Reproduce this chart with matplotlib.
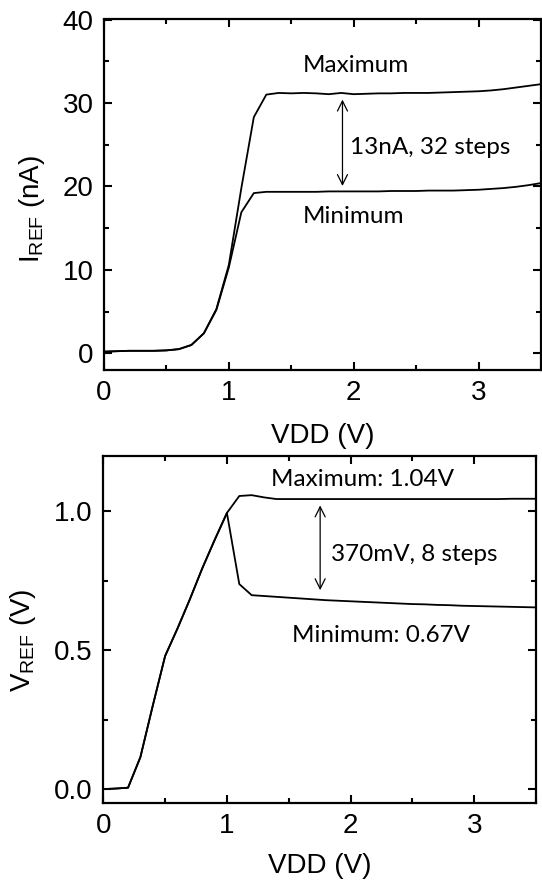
import matplotlib
matplotlib.use("Agg")
import matplotlib.pyplot as plt
from matplotlib.ticker import MultipleLocator, FormatStrFormatter

plt.rcParams['font.family'] = ['Liberation Sans', 'DejaVu Sans']
plt.rcParams['mathtext.fontset'] = 'custom'
plt.rcParams['mathtext.rm'] = 'Liberation Sans'
plt.rcParams['mathtext.it'] = 'Liberation Sans'

# ---- Top panel data: I_REF (nA) vs VDD (V)
vdd = [0.0, 0.1, 0.2, 0.3, 0.4, 0.5, 0.6, 0.7, 0.8, 0.9, 1.0, 1.1, 1.2, 1.3, 1.4,
       1.5, 1.6, 1.7, 1.8, 1.9, 2.0, 2.1, 2.2, 2.3, 2.4, 2.5, 2.6, 2.7, 2.8, 2.9,
       3.0, 3.1, 3.2, 3.3, 3.4, 3.5]
iref_max = [0.2, 0.25, 0.3, 0.3, 0.3, 0.35, 0.5, 1.0, 2.4, 5.3, 10.6, 19.8, 28.3, 31.0, 31.2,
            31.15, 31.2, 31.15, 31.05, 31.2, 31.05, 31.1, 31.15, 31.15, 31.2, 31.2, 31.2, 31.25, 31.3, 31.35,
            31.4, 31.5, 31.65, 31.85, 32.05, 32.25]
iref_min = [0.2, 0.25, 0.3, 0.3, 0.3, 0.35, 0.5, 1.0, 2.4, 5.2, 10.3, 16.9, 19.2, 19.35, 19.35,
            19.35, 19.35, 19.35, 19.4, 19.4, 19.4, 19.4, 19.4, 19.45, 19.45, 19.45, 19.5, 19.5, 19.5, 19.55,
            19.6, 19.7, 19.8, 19.95, 20.15, 20.4]

# ---- Bottom panel data: V_REF (V) vs VDD (V)
vref_max = [0.0, 0.002, 0.005, 0.115, 0.30, 0.479, 0.578, 0.683, 0.794, 0.896, 0.994, 1.055, 1.058, 1.05, 1.044,
            1.044, 1.044, 1.044, 1.044, 1.044, 1.044, 1.044, 1.044, 1.044, 1.044, 1.044, 1.044, 1.044, 1.044, 1.044,
            1.044, 1.044, 1.044, 1.045, 1.045, 1.045]
vref_min = [0.0, 0.002, 0.005, 0.115, 0.30, 0.479, 0.578, 0.683, 0.794, 0.896, 0.994, 0.738, 0.698, 0.695, 0.692,
            0.689, 0.686, 0.683, 0.680, 0.678, 0.676, 0.674, 0.672, 0.670, 0.668, 0.666, 0.665, 0.663, 0.662, 0.660,
            0.659, 0.658, 0.657, 0.656, 0.655, 0.654]

W, H = 542, 884
fig = plt.figure(figsize=(W / 100, H / 100), dpi=100)

ax1 = fig.add_axes([104 / W, (H - 370) / H, 437 / W, 350.5 / H])
ax2 = fig.add_axes([103.3 / W, (H - 803) / H, 432.7 / W, 347.3 / H])

ann_font = dict(family=['Lato', 'DejaVu Sans'], fontsize=17.5)
lw = 1.3
fs = 20
arrow_props = dict(arrowstyle='<->', color='black', lw=0.9,
                   shrinkA=0, shrinkB=0, mutation_scale=18)

for ax in (ax1, ax2):
    for s in ax.spines.values():
        s.set_linewidth(1.6)
    ax.tick_params(which='both', direction='in', top=True, right=True, width=1.5)
    ax.tick_params(which='major', length=6, labelsize=fs, pad=7.5)
    ax.tick_params(which='minor', length=3.5)
    ax.set_xlim(0, 3.5)
    ax.xaxis.set_major_locator(MultipleLocator(1))
    ax.xaxis.set_minor_locator(MultipleLocator(0.5))

# Top panel
ax1.plot(vdd, iref_max, color='black', lw=lw)
ax1.plot(vdd, iref_min, color='black', lw=lw)
ax1.set_ylim(-2, 40)
ax1.yaxis.set_major_locator(MultipleLocator(10))
ax1.yaxis.set_minor_locator(MultipleLocator(5))
ax1.set_xlabel('VDD (V)', fontsize=fs, labelpad=12)
ax1.set_ylabel(r'I$_{\mathrm{REF}}$ (nA)', fontsize=fs)
ax1.yaxis.set_label_coords(-0.130, 0.459)
ax1.text(2.02, 34.5, 'Maximum', ha='center', va='center', **ann_font)
ax1.text(2.0, 16.4, 'Minimum', ha='center', va='center', **ann_font)
ax1.text(1.97, 24.7, '13nA, 32 steps', ha='left', va='center', **ann_font)
ax1.annotate('', xy=(1.91, 30.4), xytext=(1.91, 20.05), arrowprops=arrow_props)

# Bottom panel
ax2.plot(vdd, vref_max, color='black', lw=lw)
ax2.plot(vdd, vref_min, color='black', lw=lw)
ax2.set_ylim(-0.05, 1.2)
ax2.yaxis.set_major_locator(MultipleLocator(0.5))
ax2.yaxis.set_minor_locator(MultipleLocator(0.25))
ax2.yaxis.set_major_formatter(FormatStrFormatter('%.1f'))
ax2.set_xlabel('VDD (V)', fontsize=fs, labelpad=10)
ax2.set_ylabel(r'V$_{\mathrm{REF}}$ (V)', fontsize=fs)
ax2.yaxis.set_label_coords(-0.151, 0.469)
ax2.text(2.10, 1.114, 'Maximum: 1.04V', ha='center', va='center', **ann_font)
ax2.text(2.25, 0.554, 'Minimum: 0.67V', ha='center', va='center', **ann_font)
ax2.text(1.84, 0.844, '370mV, 8 steps', ha='left', va='center', **ann_font)
ax2.annotate('', xy=(1.754, 1.021), xytext=(1.754, 0.716), arrowprops=arrow_props)

fig.savefig('out.png', dpi=100)
